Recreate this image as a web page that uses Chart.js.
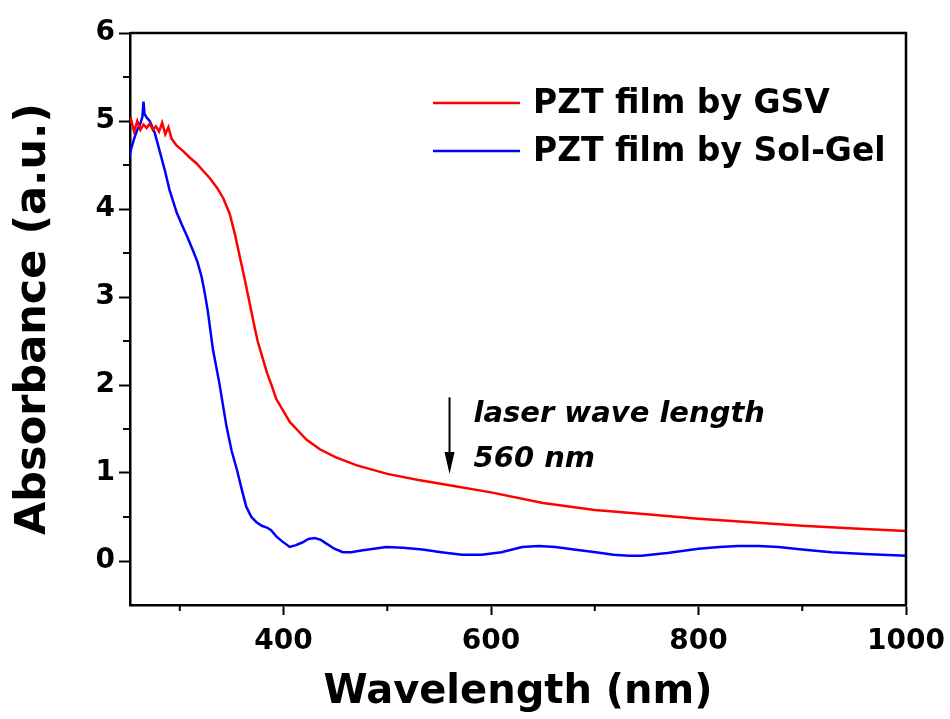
<!DOCTYPE html>
<html>
<head>
<meta charset="utf-8">
<script src="https://cdn.jsdelivr.net/npm/chart.js@4/dist/chart.umd.min.js"></script>
<style>
  html, body { margin: 0; padding: 0; background: #fff; }
  #plot { display: block; }
</style>
</head>
<body>
<canvas id="plot" width="950" height="719"></canvas>
<script>
// PZT film by GSV
const gsvWavelength = [250, 253, 256, 259, 262, 265, 268, 271, 274, 277,
                       280, 283, 286, 289, 292, 297, 303, 310, 316, 322,
                       329, 336, 342, 348, 353, 358, 363, 367, 371, 375,
                       380, 384, 389, 393, 400, 406, 414, 422, 435, 450,
                       470, 500, 530, 560, 600, 650, 700, 750, 800, 850,
                       900, 950, 1000];
const gsvAbsorbance = [4.95, 5.02, 4.88, 5.0, 4.9, 4.96, 4.92, 4.97, 4.9, 4.94,
                       4.88, 4.98, 4.85, 4.93, 4.8, 4.72, 4.66, 4.58, 4.52, 4.44,
                       4.35, 4.24, 4.12, 3.95, 3.72, 3.45, 3.18, 2.95, 2.72, 2.5,
                       2.3, 2.14, 1.98, 1.84, 1.7, 1.58, 1.48, 1.38, 1.27, 1.18,
                       1.09, 0.99, 0.92, 0.86, 0.78, 0.66, 0.58, 0.53, 0.48, 0.44,
                       0.40, 0.37, 0.34];

// PZT film by Sol-Gel
const solGelWavelength = [250, 253, 256, 259, 262, 264, 265, 266, 268, 271,
                          276, 281, 286, 290, 297, 302, 307, 313, 317, 321,
                          324, 327, 332, 338, 345, 350, 355, 360, 364, 369,
                          374, 379, 384, 388, 393, 399, 406, 412, 418, 424,
                          430, 436, 441, 449, 457, 465, 475, 487, 499, 515,
                          534, 552, 572, 591, 610, 630, 646, 662, 680, 701,
                          718, 733, 745, 770, 800, 820, 838, 858, 877, 900,
                          928, 960, 1000];
const solGelAbsorbance = [4.52, 4.68, 4.8, 4.9, 4.97, 5.05, 5.22, 5.08, 5.04, 5.0,
                          4.86, 4.64, 4.42, 4.22, 3.96, 3.82, 3.69, 3.52, 3.4, 3.23,
                          3.05, 2.84, 2.4, 2.03, 1.53, 1.25, 1.04, 0.8, 0.62, 0.5,
                          0.44, 0.4, 0.38, 0.35, 0.28, 0.22, 0.16, 0.18, 0.21, 0.25,
                          0.26, 0.24, 0.2, 0.14, 0.1, 0.1, 0.12, 0.14, 0.16, 0.15,
                          0.13, 0.1, 0.07, 0.07, 0.1, 0.16, 0.17, 0.16, 0.13, 0.1,
                          0.07, 0.06, 0.06, 0.09, 0.14, 0.16, 0.17, 0.17, 0.16, 0.13,
                          0.1, 0.08, 0.06];

const seriesLabels = ['PZT film by GSV', 'PZT film by Sol-Gel'];
const xMajorTicks = [400, 600, 800, 1000];
const xMinorTicks = [300, 500, 700, 900];
const yMajorTicks = [0, 1, 2, 3, 4, 5, 6];
const yMinorTicks = [0.5, 1.5, 2.5, 3.5, 4.5, 5.5];

// arrow marking the laser line
const laserWavelength = 560;
const laserArrowFrom = 1.86;
const laserArrowTo = 0.99;
const laserText = ['laser wave length', '560 nm'];

const FONT = 'DejaVu Sans';
const LINE_W = 2.5;

function toPoints(xs, ys) {
    return xs.map((x, i) => ({ x: x, y: ys[i] }));
}

// top/right frame + short minor ticks
const framePlugin = {
    id: 'frame',
    afterDraw(chart) {
        const { ctx, chartArea: a, scales } = chart;
        ctx.save();
        ctx.strokeStyle = '#000';
        ctx.lineWidth = LINE_W;
        ctx.beginPath();
        ctx.moveTo(a.left, a.top);
        ctx.lineTo(a.right, a.top);
        ctx.lineTo(a.right, a.bottom);
        ctx.stroke();
        ctx.lineWidth = 2;
        ctx.beginPath();
        for (const v of xMinorTicks) {
            const px = scales.x.getPixelForValue(v);
            ctx.moveTo(px, a.bottom);
            ctx.lineTo(px, a.bottom + 6);
        }
        for (const v of yMinorTicks) {
            const py = scales.y.getPixelForValue(v);
            ctx.moveTo(a.left, py);
            ctx.lineTo(a.left - 7, py);
        }
        ctx.stroke();
        ctx.restore();
    }
};

const legendPlugin = {
    id: 'insideLegend',
    afterDraw(chart) {
        const ctx = chart.ctx;
        ctx.save();
        ctx.font = `bold 33px "${FONT}"`;
        ctx.textBaseline = 'middle';
        ctx.fillStyle = '#000';
        chart.data.datasets.forEach((ds, i) => {
            const y = 103 + i * 48;
            ctx.strokeStyle = ds.borderColor;
            ctx.lineWidth = LINE_W;
            ctx.beginPath();
            ctx.moveTo(433, y);
            ctx.lineTo(520, y);
            ctx.stroke();
            ctx.fillText(ds.label, 533, y + 1);
        });
        ctx.restore();
    }
};

const laserPlugin = {
    id: 'laserArrow',
    afterDraw(chart) {
        const { ctx, scales } = chart;
        const x = scales.x.getPixelForValue(laserWavelength);
        const y0 = scales.y.getPixelForValue(laserArrowFrom);
        const y1 = scales.y.getPixelForValue(laserArrowTo);
        ctx.save();
        ctx.strokeStyle = '#000';
        ctx.fillStyle = '#000';
        ctx.lineWidth = 2;
        ctx.beginPath();
        ctx.moveTo(x, y0);
        ctx.lineTo(x, y1 - 18);
        ctx.stroke();
        ctx.beginPath();
        ctx.moveTo(x - 5, y1 - 22);
        ctx.lineTo(x + 5, y1 - 22);
        ctx.lineTo(x, y1);
        ctx.closePath();
        ctx.fill();
        ctx.font = `italic bold 29px "${FONT}"`;
        ctx.textBaseline = 'alphabetic';
        ctx.fillText(laserText[0], x + 24, y0 + 25);
        ctx.fillText(laserText[1], x + 24, y0 + 70);
        ctx.restore();
    }
};

function createChart() {
    const cfg = {
        type: 'line',
        data: {
            datasets: [
                {
                    label: seriesLabels[0],
                    data: toPoints(gsvWavelength, gsvAbsorbance),
                    borderColor: '#ff0000',
                    backgroundColor: '#ff0000',
                    borderWidth: LINE_W,
                    pointRadius: 0,
                    tension: 0
                },
                {
                    label: seriesLabels[1],
                    data: toPoints(solGelWavelength, solGelAbsorbance),
                    borderColor: '#0000ff',
                    backgroundColor: '#0000ff',
                    borderWidth: LINE_W,
                    pointRadius: 0,
                    tension: 0
                }
            ]
        },
        options: {
            responsive: false,
            animation: false,
            devicePixelRatio: 1,
            layout: {
                padding: { top: 33, right: 44, left: 0, bottom: 0 }
            },
            plugins: {
                legend: { display: false },
                tooltip: { enabled: false }
            },
            scales: {
                x: {
                    type: 'linear',
                    min: 252,
                    max: 1000,
                    afterBuildTicks: s => { s.ticks = xMajorTicks.map(v => ({ value: v })); },
                    afterFit: s => { s.height = 114; s.paddingRight = 0; s.paddingLeft = 0; },
                    border: { display: true, color: '#000', width: LINE_W },
                    grid: { drawOnChartArea: false, drawTicks: true, tickLength: 10, tickWidth: 2, tickColor: '#000' },
                    ticks: {
                        color: '#000',
                        padding: 10,
                        maxRotation: 0,
                        callback: v => String(v),
                        font: { family: FONT, size: 28, weight: 'bold' }
                    },
                    title: {
                        display: true,
                        text: 'Wavelength (nm)',
                        color: '#000',
                        padding: { top: 0, bottom: 2 },
                        font: { family: FONT, size: 40, weight: 'bold' }
                    }
                },
                y: {
                    min: -0.5,
                    max: 6,
                    afterBuildTicks: s => { s.ticks = yMajorTicks.map(v => ({ value: v })); },
                    afterFit: s => { s.width = 130; },
                    border: { display: true, color: '#000', width: LINE_W },
                    grid: { drawOnChartArea: false, drawTicks: true, tickLength: 11, tickWidth: 2, tickColor: '#000' },
                    ticks: {
                        color: '#000',
                        padding: 4,
                        callback: v => String(v),
                        font: { family: FONT, size: 28, weight: 'bold' }
                    },
                    title: {
                        display: true,
                        text: 'Absorbance (a.u.)',
                        color: '#000',
                        padding: { top: 8, bottom: 0 },
                        font: { family: FONT, size: 43, weight: 'bold' }
                    }
                }
            }
        },
        plugins: [framePlugin, legendPlugin, laserPlugin]
    };
    return new Chart(document.getElementById('plot'), cfg);
}

const chart = createChart();
</script>
</body>
</html>
